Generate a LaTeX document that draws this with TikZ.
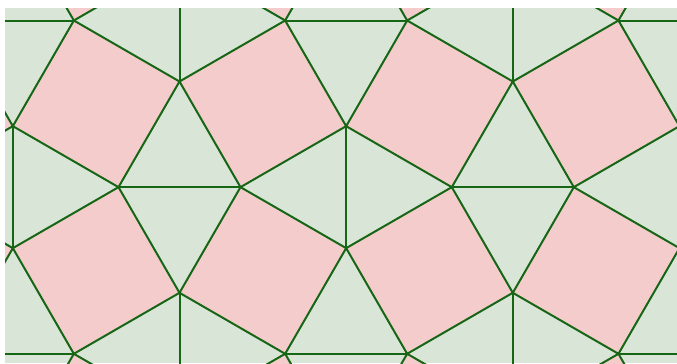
\documentclass[tikz,border=0pt]{standalone}
\usepackage{tikz}
\usetikzlibrary{calc}
\definecolor{tripale}{RGB}{217,230,215}
\definecolor{sqpink}{RGB}{244,204,204}
\definecolor{edgegreen}{RGB}{22,102,22}
\tikzset{
  sqface/.style={fill=sqpink,draw=none},
  tiledge/.style={draw=edgegreen,line width=0.05cm,line join=round,line cap=round}
}
% edge length and its projections (pixel units)
\newcommand{\ea}{122}
\newcommand{\es}{105.65}
\newcommand{\eh}{61}
\newcommand{\ep}{166.65}
\begin{document}
\begin{tikzpicture}[x=0.025cm,y=-0.025cm]
\useasboundingbox (0,0) rectangle (677,363);
\fill[white] (0,0) rectangle (677,363);
\begin{scope}
\clip (5,8) rectangle (677,363);
\fill[tripale] (5,8) rectangle (677,363);
% ---------- squares ----------
\foreach \m in {-3,...,5} {
  \foreach \n in {-4,...,4} {
    \begin{scope}[shift={({179.5+\ep*(\m+\n)},{81.5+\ep*(\m-\n)})}]
      \path[sqface] (0,0) -- (\es,-\eh) -- (\es+\eh,\es-\eh) -- (\eh,\es) -- cycle;
      \path[sqface] (0,0) -- (-\es,-\eh) -- (-\es-\eh,\es-\eh) -- (-\eh,\es) -- cycle;
    \end{scope}
  }
}
% ---------- edges ----------
\foreach \m in {-3,...,5} {
  \foreach \n in {-4,...,4} {
    \begin{scope}[shift={({179.5+\ep*(\m+\n)},{81.5+\ep*(\m-\n)})}]
      \draw[tiledge] (0,0) -- (\es,-\eh) -- (\es+\eh,\es-\eh) -- (\eh,\es) -- cycle;
      \draw[tiledge] (0,0) -- (-\es,-\eh) -- (-\es-\eh,\es-\eh) -- (-\eh,\es) -- cycle;
      \draw[tiledge] (0,0) -- (0,-\ea);
      \draw[tiledge] (-\eh,\es) -- (\eh,\es);
    \end{scope}
  }
}
\end{scope}
\end{tikzpicture}
\end{document}
